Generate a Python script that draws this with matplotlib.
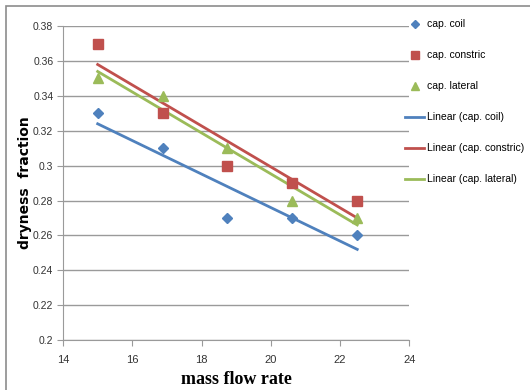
import matplotlib
matplotlib.use('Agg')
import matplotlib.pyplot as plt
import numpy as np
from matplotlib.patches import Rectangle
from matplotlib.ticker import FuncFormatter

# data
mass_flow = [15, 16.875, 18.75, 20.625, 22.5]
cap_coil = [0.33, 0.31, 0.27, 0.27, 0.26]
cap_constric = [0.37, 0.33, 0.30, 0.29, 0.28]
cap_lateral = [0.35, 0.34, 0.31, 0.28, 0.27]

names = ['cap. coil', 'cap. constric', 'cap. lateral']
colors = ['#4F81BD', '#C0504D', '#9BBB59']
markers = ['D', 's', '^']
msizes = [5, 7, 7]

small = {'family': 'Liberation Sans', 'size': 7.5}

fig = plt.figure(figsize=(5.3, 3.9), dpi=100)
fig.patches.append(Rectangle((0.012, -0.01), 1.0, 0.995, transform=fig.transFigure,
                             fill=False, edgecolor='#8c8c8c', linewidth=1.2))
ax = fig.add_axes([0.119, 0.128, 0.653, 0.805])

series = [cap_coil, cap_constric, cap_lateral]
handles = []
for ys, nm, c, m, ms in zip(series, names, colors, markers, msizes):
    h, = ax.plot(mass_flow, ys, linestyle='none', marker=m, color=c,
                 markersize=ms, label=nm, zorder=3)
    handles.append(h)

# trendlines, least squares like excel
x = np.array(mass_flow)
for ys, nm, c in zip(series, names, colors):
    k, b = np.polyfit(x, ys, 1)
    h, = ax.plot(x, k * x + b, color=c, linewidth=2, label='Linear (%s)' % nm, zorder=2)
    handles.append(h)

ax.set_xlim(14, 24)
ax.set_ylim(0.2, 0.38)
ax.set_xticks(np.arange(14, 25, 2))
ax.set_yticks(np.arange(0.2, 0.381, 0.02))
ax.yaxis.set_major_formatter(FuncFormatter(lambda v, p: '%g' % round(v, 2)))
ax.yaxis.grid(True, color='#9a9a9a', linewidth=1)
ax.set_axisbelow(True)
for s in ['top', 'right']:
    ax.spines[s].set_visible(False)
for s in ['left', 'bottom']:
    ax.spines[s].set_color('#9a9a9a')
ax.tick_params(colors='#9a9a9a', length=4, labelcolor='#333333')
ax.tick_params(axis='x', pad=7)
ax.tick_params(axis='y', pad=3)
for lbl in ax.get_xticklabels():
    lbl.set_family(small['family'])
    lbl.set_fontsize(8)
for lbl in ax.get_yticklabels():
    lbl.set_family(small['family'])
    lbl.set_fontsize(7.5)

ax.set_ylabel('dryness  fraction', fontsize=10, fontweight='bold', family='DejaVu Sans')
ax.yaxis.set_label_coords(-0.09, 0.5)
ax.set_xlabel('mass flow rate', fontsize=13, fontweight='bold', family='Liberation Serif')
ax.xaxis.set_label_coords(0.5, -0.097)

leg = ax.legend(handles=handles, loc='upper left', bbox_to_anchor=(0.96, 1.052),
                frameon=False, prop=small, markerscale=0.8,
                labelspacing=2.02, handlelength=1.9, handletextpad=0.2)

fig.savefig('out.png', dpi=100)
